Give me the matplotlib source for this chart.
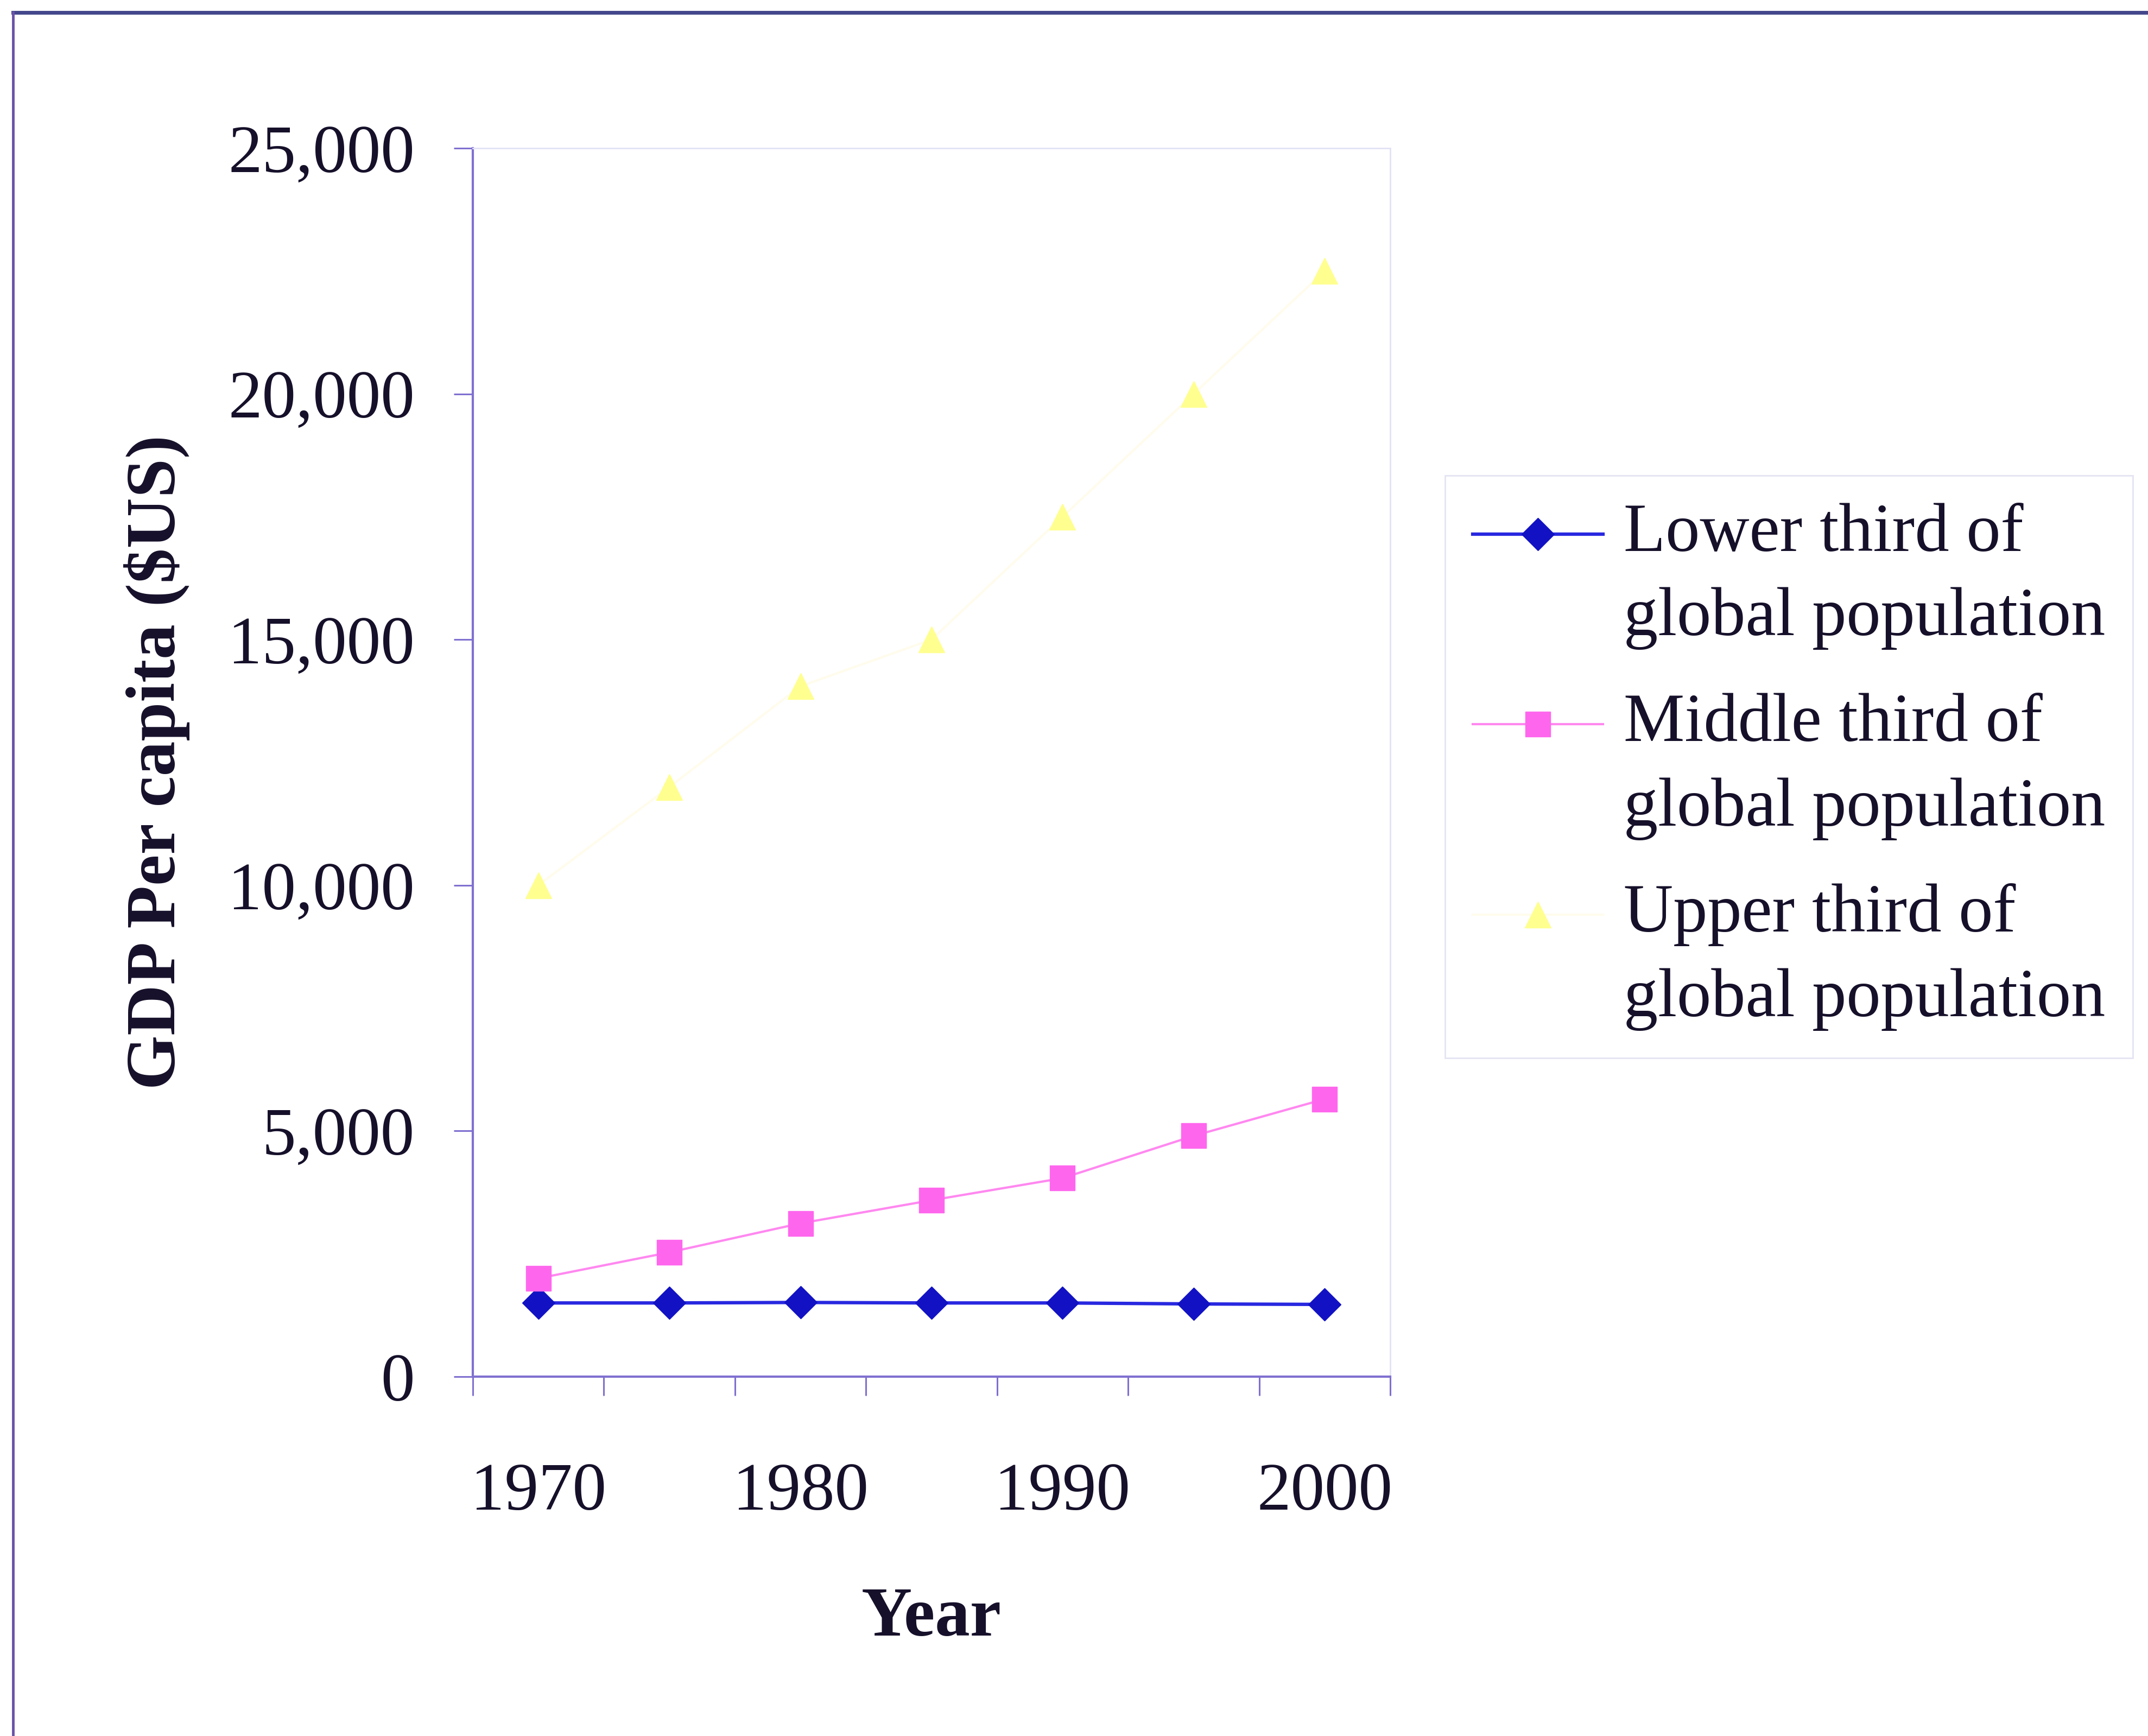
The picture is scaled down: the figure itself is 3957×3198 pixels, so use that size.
import numpy as np
import matplotlib.pyplot as plt
from matplotlib.lines import Line2D
from matplotlib.legend_handler import HandlerLine2D
from matplotlib.ticker import FuncFormatter, MultipleLocator

# data
years = [1970, 1975, 1980, 1985, 1990, 1995, 2000]
tick_years = ['1970', '1980', '1990', '2000']
lower = [1500, 1500, 1510, 1500, 1500, 1480, 1470]
middle = [2000, 2530, 3120, 3590, 4040, 4900, 5650]
upper = [10000, 12000, 14050, 15000, 17500, 20000, 22500]
labels = ['Lower third of\nglobal population',
          'Middle third of\nglobal population',
          'Upper third of\nglobal population']

plt.rcParams['font.family'] = ['Liberation Serif', 'DejaVu Serif']

axis_col = '#8070d0'
text_col = '#16102a'


# legend handle drawn level with the first line of a two-line label
class TopHandler(HandlerLine2D):
    def create_artists(self, legend, orig_handle, xdescent, ydescent,
                       width, height, fontsize, trans):
        arts = super().create_artists(legend, orig_handle, xdescent, ydescent,
                                      width, height, fontsize, trans)
        for a in arts:
            a.set_ydata(np.asarray(a.get_ydata()) + 0.62 * fontsize)
        return arts


fig = plt.figure(figsize=(39.57, 31.98), dpi=100)
ax = fig.add_axes([0.2201, 0.2070, 0.4271, 0.7076])

x = np.arange(len(years))
l1, = ax.plot(x, lower, color='#2828e0', lw=4.5, marker='D', ms=31,
              mfc='#1212c4', mec='#1212c4', label=labels[0])
l2, = ax.plot(x, middle, color='#ff88f0', lw=3, marker='s', ms=33,
              mfc='#ff66ee', mec='#ff66ee', label=labels[1])
l3, = ax.plot(x, upper, color='#fffcec', lw=3, marker='^', ms=34,
              mfc='#ffff90', mec='#ffff90', label=labels[2])

ax.set_xlim(-0.5, len(years) - 0.5)
ax.set_ylim(0, 25000)
ax.yaxis.set_major_locator(MultipleLocator(5000))
ax.yaxis.set_major_formatter(FuncFormatter(lambda v, p: f'{int(v):,}'))

# category axis: ticks between categories, labels every other year
ax.set_xticks(np.arange(len(years) + 1) - 0.5)
ax.set_xticklabels([])
ax.set_xticks([years.index(int(t)) for t in tick_years], minor=True)
ax.set_xticklabels(tick_years, minor=True)

ax.tick_params(axis='x', which='major', direction='out', length=25, width=2.2,
               color=axis_col)
ax.tick_params(axis='x', which='minor', length=0, pad=114, labelsize=90,
               labelcolor=text_col)
ax.tick_params(axis='y', direction='out', length=25, width=2.2, color=axis_col,
               pad=52, labelsize=90, labelcolor=text_col)

for s in ['left', 'bottom']:
    ax.spines[s].set_color(axis_col)
    ax.spines[s].set_linewidth(3)
for s in ['top', 'right']:
    ax.spines[s].set_color('#e2e2f6')
    ax.spines[s].set_linewidth(2)

ax.set_xlabel('Year', fontsize=93, fontweight='bold', color=text_col)
ax.set_ylabel('GDP Per capita ($US)', fontsize=93, fontweight='bold',
              color=text_col)
ax.xaxis.set_label_coords(0.5, -0.171)
ax.yaxis.set_label_coords(-0.308, 0.5)

leg = fig.legend(handles=[l1, l2, l3], loc='upper left',
                 bbox_to_anchor=(0.6728, 0.7261), borderaxespad=0,
                 fontsize=91, frameon=True, fancybox=False, borderpad=0.4,
                 handlelength=1.9, handletextpad=0.3, labelspacing=0.63,
                 handler_map={Line2D: TopHandler()})
leg.get_frame().set_edgecolor('#dcdcf0')
leg.get_frame().set_linewidth(2)
for t in leg.get_texts():
    t.set_color(text_col)
    t.set_linespacing(1.45)

# outer chart frame (top and left edges visible)
fig.add_artist(Line2D([24 / 3957, 1], [1 - 23 / 3198] * 2,
                      transform=fig.transFigure, color='#44478a', lw=5))
fig.add_artist(Line2D([24 / 3957] * 2, [0, 1 - 23 / 3198],
                      transform=fig.transFigure, color='#6a52a8', lw=3.5))

plt.savefig('out.png', dpi=100)
